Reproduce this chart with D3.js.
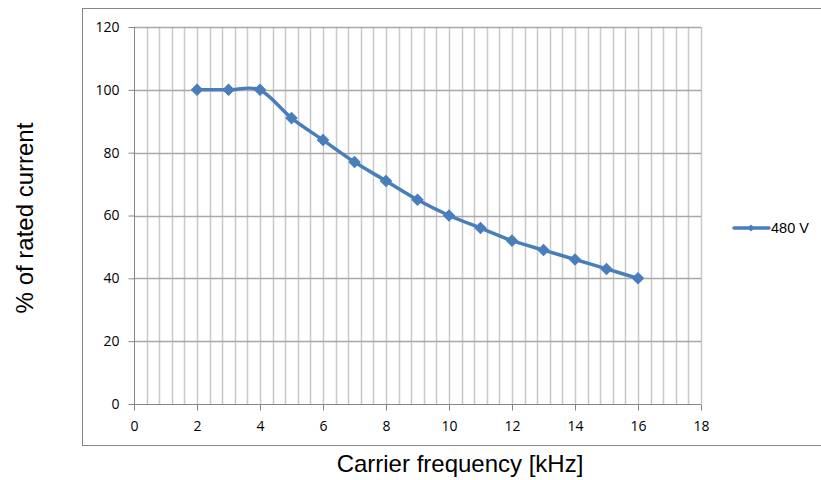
<!DOCTYPE html>
<html>
<head>
<meta charset="utf-8">
<script src="https://cdn.jsdelivr.net/npm/d3@7"></script>
<style>
  html, body { margin: 0; padding: 0; background: #fff; }
  svg { display: block; }
</style>
</head>
<body>
<svg id="chart" width="821" height="480"></svg>
<script>
const frequencies = [2, 3, 4, 5, 6, 7, 8, 9, 10, 11, 12, 13, 14, 15, 16];
const ratedCurrent480 = [100, 100, 100, 91, 84, 77, 71, 65, 60, 56, 52, 49, 46, 43, 40];
const seriesName = "480 V";
const xTicks = [0, 2, 4, 6, 8, 10, 12, 14, 16, 18];
const yTicks = [0, 20, 40, 60, 80, 100, 120];
const xTitle = "Carrier frequency [kHz]";
const yTitle = "% of rated current";

const svg = d3.select("#chart");
const plot = { left: 134, right: 701, top: 27, bottom: 404 };

const x = d3.scaleLinear().domain([0, 18]).range([plot.left, plot.right]);
const y = d3.scaleLinear().domain([0, 120]).range([plot.bottom, plot.top]);

const axisColor = "#868686";
const gridColor = "#c8c8c8";
const blue = "#4a7ebb";
const tickFont = "'Open Sans', 'Liberation Sans', sans-serif";
const titleFont = "'Liberation Sans', Arial, sans-serif";

// outer chart frame
svg.append("rect")
  .attr("x", 82.5).attr("y", 8.5)
  .attr("width", 760).attr("height", 437)
  .attr("fill", "#fff").attr("stroke", axisColor).attr("stroke-width", 1);

// minor vertical gridlines (every 0.4)
const minorX = d3.range(1, 46).map(i => +(i * 0.4).toFixed(2));
svg.append("g")
  .selectAll("line").data(minorX).join("line")
  .attr("x1", d => Math.round(x(d)) + 0.5).attr("x2", d => Math.round(x(d)) + 0.5)
  .attr("y1", plot.top).attr("y2", plot.bottom)
  .attr("stroke", gridColor).attr("stroke-width", 1.5);

// horizontal major gridlines
svg.append("g")
  .selectAll("line").data(yTicks.filter(d => d > 0)).join("line")
  .attr("x1", plot.left).attr("x2", plot.right)
  .attr("y1", d => Math.round(y(d)) + 0.5).attr("y2", d => Math.round(y(d)) + 0.5)
  .attr("stroke", "#a8a8a8").attr("stroke-width", 1.3);

// Y axis
const yAxis = d3.axisLeft(y).tickValues(yTicks).tickSize(6).tickPadding(9).tickFormat(d3.format("d"));
const gy = svg.append("g").attr("transform", `translate(${plot.left + 0.5},0)`).call(yAxis);
gy.select(".domain").attr("stroke", axisColor).attr("d", `M0,${plot.top}V${plot.bottom}`);
gy.selectAll(".tick line").attr("stroke", axisColor);
gy.selectAll(".tick text").attr("font-family", tickFont).attr("font-size", 14).attr("fill", "#000");

// X axis
const xAxis = d3.axisBottom(x).tickValues(xTicks).tickSize(6).tickPadding(11).tickFormat(d3.format("d"));
const gx = svg.append("g").attr("transform", `translate(0,${plot.bottom + 0.5})`).call(xAxis);
gx.select(".domain").attr("stroke", axisColor).attr("d", `M${plot.left},0H${plot.right}`);
gx.selectAll(".tick line").attr("stroke", axisColor);
gx.selectAll(".tick text").attr("font-family", tickFont).attr("font-size", 14).attr("fill", "#000");

// Series
const data = frequencies.map((f, i) => ({ f, v: ratedCurrent480[i] }));
const line = d3.line().x(d => x(d.f)).y(d => y(d.v)).curve(d3.curveCardinal.tension(0.1));
svg.append("path").datum(data)
  .attr("d", line).attr("fill", "none")
  .attr("stroke", blue).attr("stroke-width", 3.5)
  .attr("stroke-linejoin", "round").attr("stroke-linecap", "round");

const squareMarker = d3.symbol().type(d3.symbolSquare).size(62);
svg.append("g").selectAll("path").data(data).join("path")
  .attr("transform", d => `translate(${x(d.f)},${y(d.v)}) rotate(45)`)
  .attr("d", squareMarker)
  .attr("fill", blue).attr("stroke", blue).attr("stroke-width", 1);

// Legend
const lg = svg.append("g").attr("transform", "translate(734,228)");
lg.append("line").attr("x1", 0).attr("x2", 35).attr("y1", 0).attr("y2", 0)
  .attr("stroke", blue).attr("stroke-width", 3.5).attr("stroke-linecap", "round");
lg.append("path").attr("transform", "translate(17,0) rotate(45)")
  .attr("d", d3.symbol().type(d3.symbolSquare).size(26)).attr("fill", blue);
lg.append("text").attr("x", 37).attr("y", 0).attr("dy", "0.35em")
  .attr("font-family", titleFont).attr("font-size", 14.5).attr("fill", "#000")
  .text(seriesName);

// Axis titles
svg.append("text")
  .attr("x", 460).attr("y", 472)
  .attr("text-anchor", "middle")
  .attr("font-family", titleFont).attr("font-size", 24).attr("fill", "#000")
  .text(xTitle);

svg.append("text")
  .attr("transform", `translate(33,218) rotate(-90)`)
  .attr("text-anchor", "middle")
  .attr("font-family", titleFont).attr("font-size", 24).attr("fill", "#000")
  .text(yTitle);
</script>
</body>
</html>
